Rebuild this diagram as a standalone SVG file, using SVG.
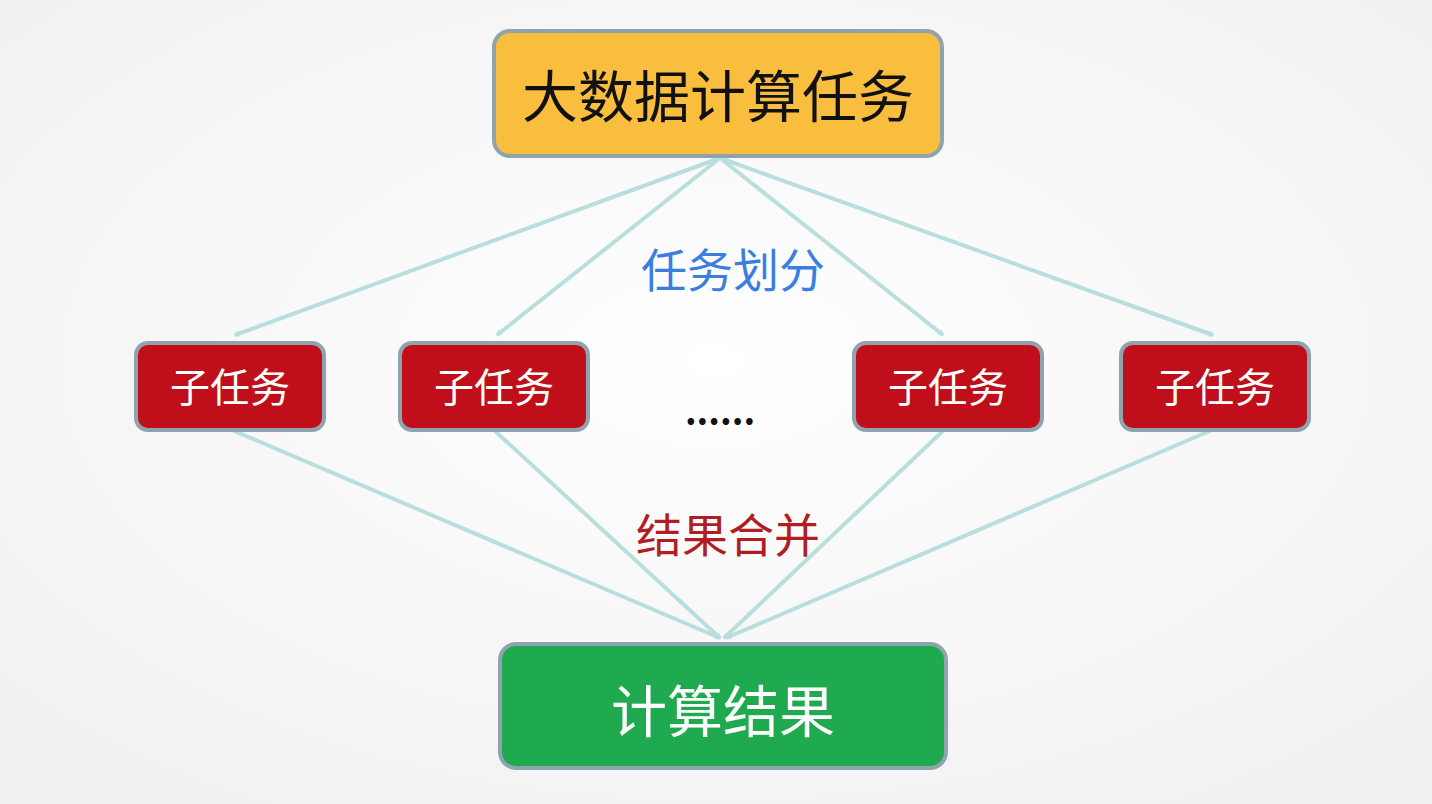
<svg xmlns="http://www.w3.org/2000/svg" width="1432" height="804" viewBox="0 0 1432 804">
<defs>
<radialGradient id="bg" cx="50%" cy="45%" r="70%"><stop offset="0" stop-color="#ffffff"/><stop offset="1" stop-color="#f0f0f0"/></radialGradient>
<marker id="ah" viewBox="0 0 12 12" refX="10" refY="6" markerWidth="6" markerHeight="6" orient="auto" markerUnits="userSpaceOnUse"><path d="M1,1 L10,6 L1,11" fill="none" stroke="#b8dedd" stroke-width="2.5"/></marker>
<style>
.c{stroke:#b8dedd;stroke-width:4;fill:none;marker-end:url(#ah)}
.t{font-family:"Noto Sans CJK SC",sans-serif;text-anchor:middle}
.sub rect{fill:#c00f1a;stroke:#8fa3ae;stroke-width:4}
.sub text{fill:#fff;font-size:40px}
</style>
</defs>
<rect width="1432" height="804" fill="url(#bg)"/>
<g id="connectors">
<path class="c" d="M720,158 L235,335"/><path class="c" d="M720,158 L497,335"/><path class="c" d="M720,158 L943,335"/><path class="c" d="M720,158 L1213,335"/>
<path class="c" d="M232,430 L720,638"/><path class="c" d="M494,430 L720,638"/><path class="c" d="M944,430 L724,638"/><path class="c" d="M1212,430 L726,638"/>
</g>
<g id="top"><rect x="494" y="31" width="448" height="125" rx="16" fill="#f9be3e" stroke="#8fa3ae" stroke-width="4"/><text class="t" x="718" y="117" font-size="56" fill="#111">大数据计算任务</text></g>
<g id="sub1" class="sub"><rect x="136" y="343" width="188" height="87" rx="12"/><text class="t" x="230" y="402">子任务</text></g>
<g id="sub2" class="sub"><rect x="400" y="343" width="188" height="87" rx="12"/><text class="t" x="494" y="402">子任务</text></g>
<g id="sub3" class="sub"><rect x="854" y="343" width="188" height="87" rx="12"/><text class="t" x="948" y="402">子任务</text></g>
<g id="sub4" class="sub"><rect x="1121" y="343" width="188" height="87" rx="12"/><text class="t" x="1215" y="402">子任务</text></g>
<g id="bottom"><rect x="500" y="644" width="446" height="124" rx="16" fill="#1faa4f" stroke="#8fa3ae" stroke-width="4"/><text class="t" x="723" y="732" font-size="56" fill="#fff">计算结果</text></g>
<text class="t" x="733" y="287" font-size="46" fill="#3a7fe0">任务划分</text>
<text class="t" x="728" y="552" font-size="46" fill="#b01e24">结果合并</text>
<text class="t" x="720" y="425" font-size="36" font-weight="bold" fill="#111">......</text>
</svg>
